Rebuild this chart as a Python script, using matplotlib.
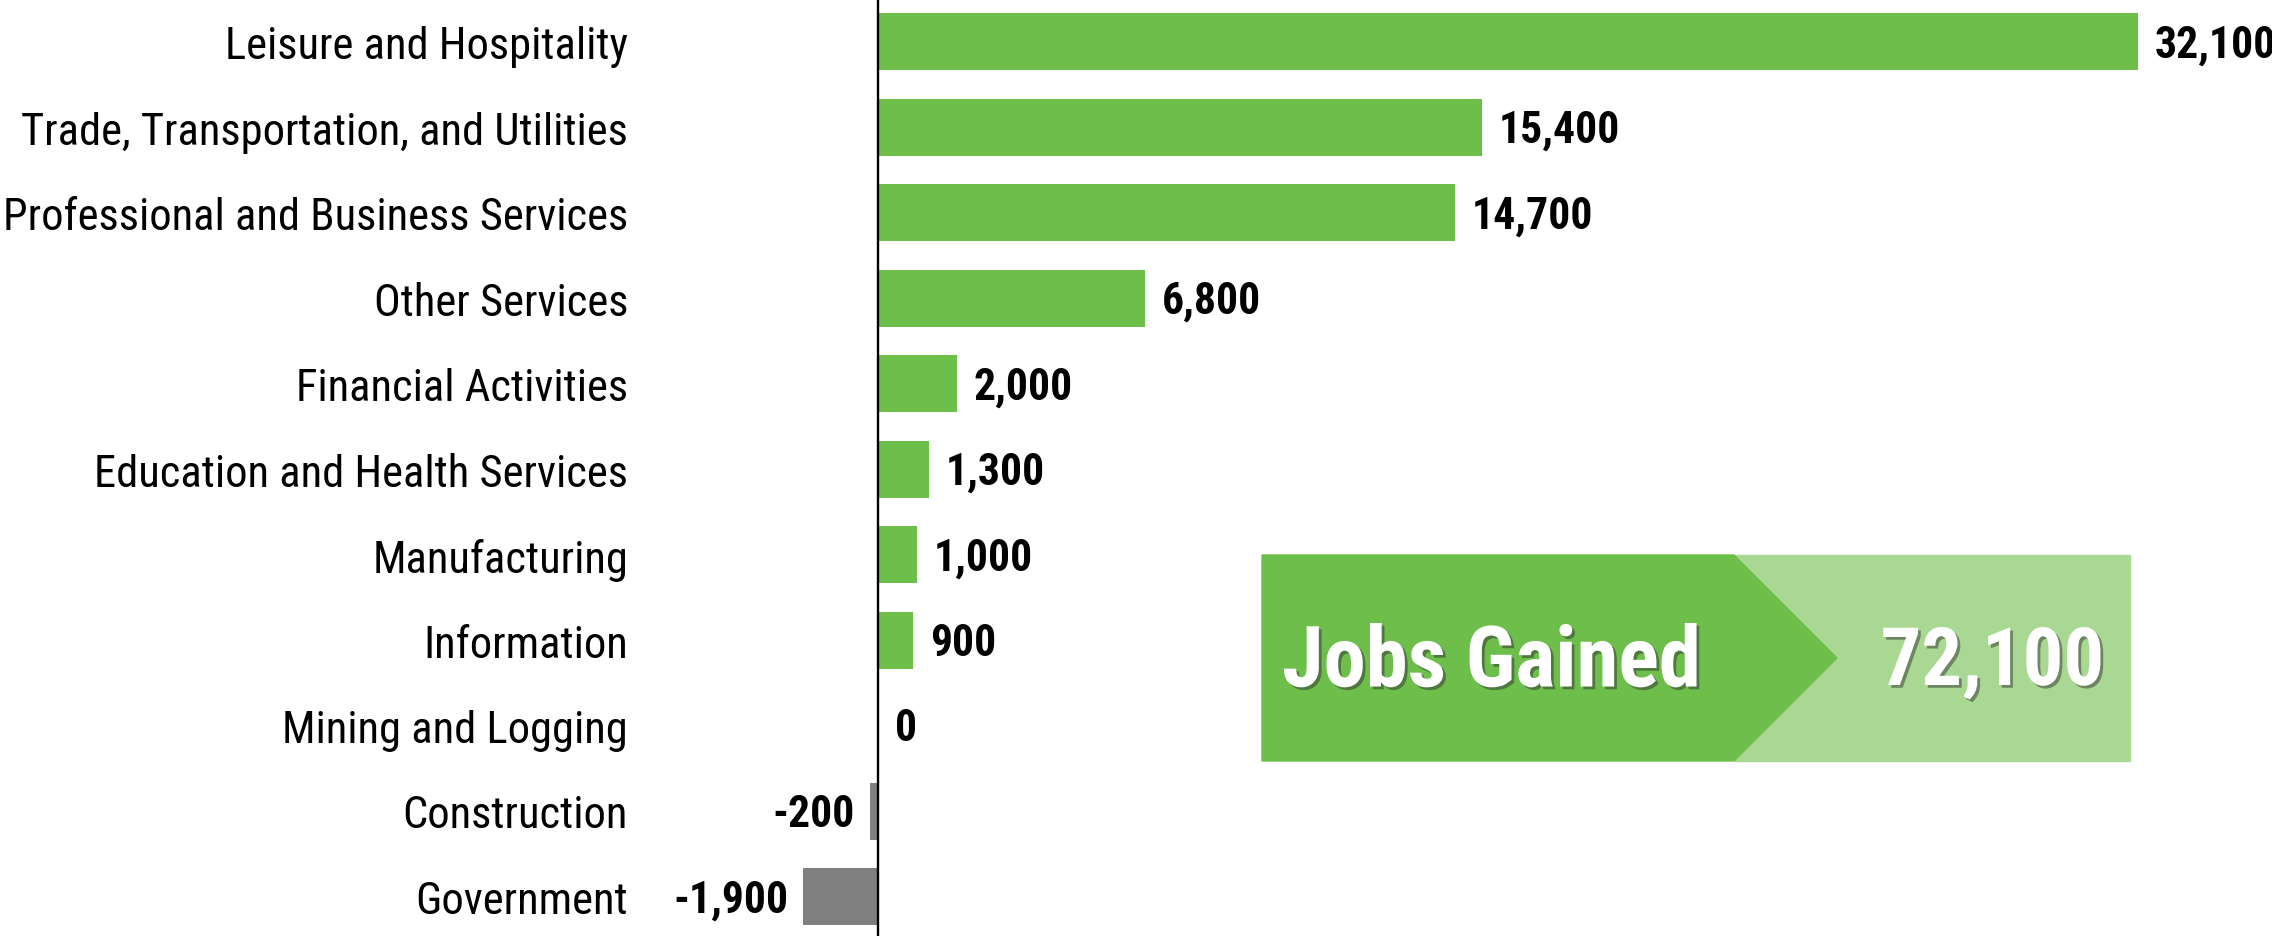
import matplotlib
matplotlib.use("Agg")
import matplotlib.pyplot as plt
from matplotlib import font_manager
from matplotlib.patches import Polygon, Rectangle
import matplotlib.patheffects as pe

categories = [
    "Leisure and Hospitality",
    "Trade, Transportation, and Utilities",
    "Professional and Business Services",
    "Other Services",
    "Financial Activities",
    "Education and Health Services",
    "Manufacturing",
    "Information",
    "Mining and Logging",
    "Construction",
    "Government",
]
jobs_change = [32100, 15400, 14700, 6800, 2000, 1300, 1000, 900, 0, -200, -1900]
total_label = "Jobs Gained"
total_value = 72100

GREEN = "#6dbe4b"
LIGHT_GREEN = "#a9d892"
GRAY = "#808080"

# pick a narrow sans face, Arial Narrow style
names = {f.name for f in font_manager.fontManager.ttflist}
FONT = next((n for n in ["Liberation Sans Narrow", "Roboto Condensed", "Archivo Narrow",
                         "PT Sans Narrow", "Asap Condensed"] if n in names), "DejaVu Sans")
plt.rcParams["font.family"] = [FONT, "DejaVu Sans"]

W, H, DPI = 2272, 937, 100
fig = plt.figure(figsize=(W / DPI, H / DPI), dpi=DPI)

# axes placed so the zero line sits at x=878 px, rows every 85.5 px
ax_left_px = 640
ax = fig.add_axes([ax_left_px / W, 0, (W - ax_left_px) / W, 1])
px_per_unit = 1260 / 32100
ax.set_xlim(-(878 - ax_left_px) / px_per_unit, (W - 878) / px_per_unit)
row = 85.5
ax.set_ylim((H - 42.5) / row, -42.5 / row)

ypos = list(range(len(categories)))
colors = [GREEN if v >= 0 else GRAY for v in jobs_change]
ax.barh(ypos, jobs_change, height=57 / row, color=colors, zorder=2)
ax.axvline(0, color="black", lw=1.7, zorder=3)

for s in ax.spines.values():
    s.set_visible(False)
ax.set_xticks([])
ax.set_yticks(ypos)
ax.set_yticklabels(categories, fontsize=32)
ax.tick_params(axis="y", length=0, pad=(ax_left_px - 628) * 72 / DPI)

for y, v in zip(ypos, jobs_change):
    txt = f"{v:,}"
    if v >= 0:
        ax.annotate(txt, (v, y), xytext=(12, -2), textcoords="offset points",
                    ha="left", va="center", fontsize=31.5, fontweight="bold")
    else:
        ax.annotate(txt, (v, y), xytext=(-11, -2), textcoords="offset points",
                    ha="right", va="center", fontsize=31.5, fontweight="bold")

# summary badge
def fx(px):
    return px / W

def fy(py):
    return 1 - py / H

fig.patches.append(Rectangle((fx(1734), fy(762)), fx(2130) - fx(1734), fy(556) - fy(762),
                             transform=fig.transFigure, color=LIGHT_GREEN, zorder=1))
arrow = [(1262, 556), (1734, 556), (1837, 659), (1734, 762), (1262, 762)]
fig.patches.append(Polygon([(fx(x), fy(y)) for x, y in arrow], closed=True,
                           transform=fig.transFigure, color=GREEN, zorder=2))

shadow = [pe.SimplePatchShadow(offset=(2, -2), shadow_rgbFace="#333333", alpha=0.5), pe.Normal()]
fig.text(fx(1282), fy(664), total_label, ha="left", va="center", fontsize=61,
         fontweight="bold", color="white", path_effects=shadow, zorder=5)
fig.text(fx(2104), fy(664), f"{total_value:,}", ha="right", va="center", fontsize=58,
         fontweight="bold", color="white", path_effects=shadow, zorder=5)

fig.savefig("out.png", dpi=DPI)
